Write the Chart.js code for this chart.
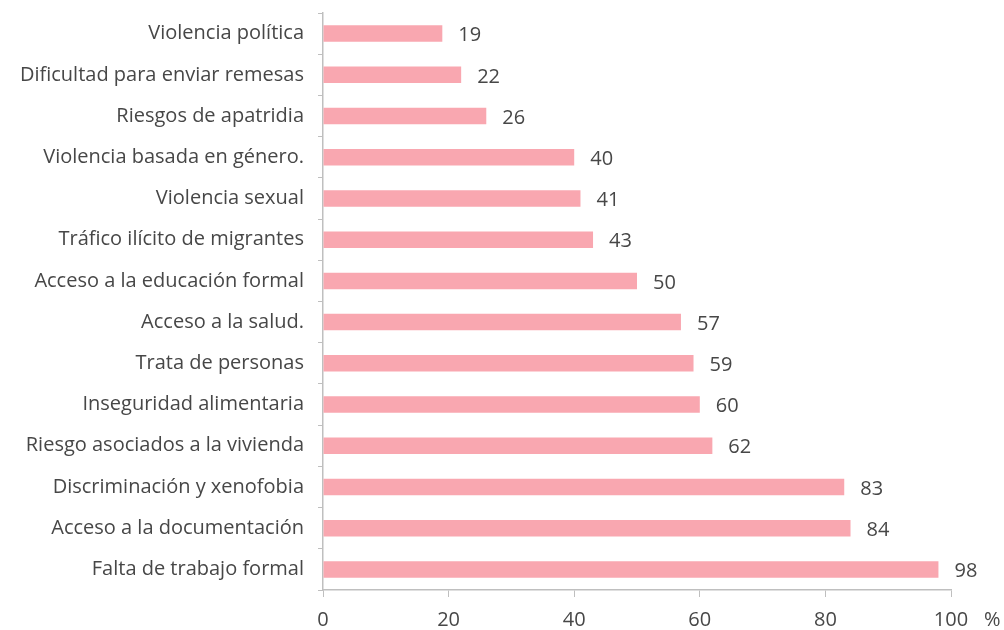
<!DOCTYPE html>
<html>
<head>
<meta charset="utf-8">
<script src="https://cdn.jsdelivr.net/npm/chart.js@4"></script>
<style>
  html, body { margin: 0; padding: 0; background: #fff; }
  #wrap { width: 1004px; height: 630px; }
</style>
</head>
<body>
<div id="wrap"><canvas id="chart" width="1004" height="630"></canvas></div>
<script>
// Categories, top to bottom as in the picture
const categories = [
    'Violencia política',
    'Dificultad para enviar remesas',
    'Riesgos de apatridia',
    'Violencia basada en género.',
    'Violencia sexual',
    'Tráfico ilícito de migrantes',
    'Acceso a la educación formal',
    'Acceso a la salud.',
    'Trata de personas',
    'Inseguridad alimentaria',
    'Riesgo asociados a la vivienda',
    'Discriminación y xenofobia',
    'Acceso a la documentación',
    'Falta de trabajo formal'
];
const values = [19, 22, 26, 40, 41, 43, 50, 57, 59, 60, 62, 83, 84, 98];
const xTicks = [0, 20, 40, 60, 80, 100];
const unitLabel = '%';

const textColor = '#474747';
const axisColor = '#bfbfbf';
const font = { family: '"Open Sans", Lato, sans-serif', size: 20 };

// value labels at the end of each bar, plus the "%" after the last tick
const valueLabels = {
    id: 'valueLabels',
    afterDatasetsDraw(chart) {
        const ctx = chart.ctx;
        const meta = chart.getDatasetMeta(0);
        ctx.save();
        ctx.font = font.size + 'px ' + font.family;
        ctx.fillStyle = textColor;
        ctx.textAlign = 'left';
        ctx.textBaseline = 'middle';
        meta.data.forEach((bar, i) => {
            ctx.fillText(values[i], bar.x + 16, bar.y + 2);
        });
        const xs = chart.scales.x;
        ctx.fillText(unitLabel, xs.right + 33, xs.bottom - 10);
        ctx.restore();
    }
};

const ctx = document.getElementById('chart').getContext('2d');
new Chart(ctx, {
    type: 'bar',
    data: {
        labels: categories,
        datasets: [{
            data: values,
            backgroundColor: '#f9a7b0',
            categoryPercentage: 1,
            barPercentage: 0.4
        }]
    },
    options: {
        indexAxis: 'y',
        responsive: false,
        animation: false,
        layout: { padding: { top: 13, right: 53, left: 0, bottom: 0 } },
        plugins: {
            legend: { display: false },
            tooltip: { enabled: false }
        },
        scales: {
            x: {
                min: 0,
                max: 100,
                afterBuildTicks: scale => {
                    scale.ticks = xTicks.map(v => ({ value: v }));
                },
                afterFit: scale => { scale.height = 40; },
                grid: {
                    drawOnChartArea: false,
                    color: axisColor,
                    tickLength: 7
                },
                border: { color: axisColor, width: 1.5 },
                ticks: { color: textColor, font: font, padding: 11, maxRotation: 0 }
            },
            y: {
                afterFit: scale => {
                    scale.width = 323;
                    scale.paddingTop = 0;
                    scale.paddingBottom = 0;
                },
                grid: {
                    drawOnChartArea: false,
                    offset: true,
                    color: axisColor,
                    tickLength: 5
                },
                border: { color: axisColor, width: 1.5 },
                ticks: { color: textColor, font: font, padding: 14, autoSkip: false }
            }
        }
    },
    plugins: [valueLabels]
});
</script>
</body>
</html>
